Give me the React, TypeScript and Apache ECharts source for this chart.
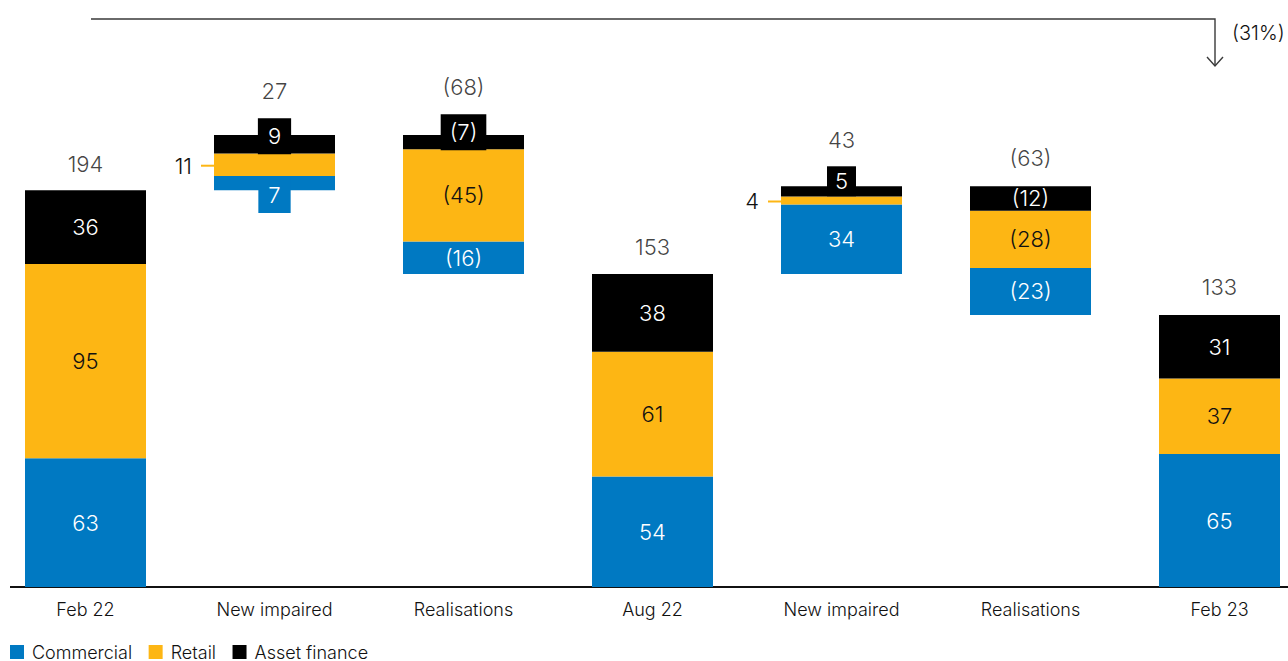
import React, { useEffect, useRef } from 'react';
import * as echarts from 'echarts';

// ---------- data ----------
const categories = ['Feb 22', 'New impaired', 'Realisations', 'Aug 22', 'New impaired', 'Realisations', 'Feb 23'];
const kinds = ['total', 'delta', 'delta', 'total', 'delta', 'delta', 'total'];
const commercial = [63, 7, -16, 54, 34, -23, 65];
const retail = [95, 11, -45, 61, 4, -28, 37];
const assetFinance = [36, 9, -7, 38, 5, -12, 31];
const changeLabel = '(31%)';

// ---------- styling ----------
const FONT = 'Inter';
const TEXT = '#111111';
const BLUE = '#0079C2';
const ORANGE = '#FDB614';
const BLACK = '#000000';

const W = 1288;
const H = 661;
const SHIFT = 9; // chart canvas starts 9px left of the page
const CW = 1323; // 7 bands of 189px
const BASE_Y = 587;
const Y_MAX = 250;
const PX_PER_UNIT = 2.045;

const fmt = (v: number) => (v < 0 ? `(${-v})` : `${v}`);

const totals = categories.map((_, i) => commercial[i] + retail[i] + assetFinance[i]);
const bases: number[] = [];
const tops: number[] = [];
{
  let running = 0;
  totals.forEach((t, i) => {
    if (kinds[i] === 'total') {
      bases.push(0);
      tops.push(t);
      running = t;
    } else if (t >= 0) {
      bases.push(running);
      tops.push(running + t);
      running += t;
    } else {
      bases.push(running + t);
      tops.push(running);
      running += t;
    }
  });
}

// distance of total label above bar top
const totalLabelDistance = [14, 32, 36, 15, 34, 16, 16];

// per segment label overrides (styling only)
const boxOverrides: Record<string, any> = {
  'Asset finance-1': { backgroundColor: BLACK, padding: [6, 10], offset: [0, -8] },
  'Commercial-1': { backgroundColor: BLUE, padding: [6, 10], offset: [0, 12] },
  'Asset finance-2': { backgroundColor: BLACK, padding: [6, 9], offset: [0, -10] },
  'Asset finance-4': { backgroundColor: BLACK, padding: [3, 8], offset: [0, -10] },
  'Retail-1': { position: 'left', distance: 0, offset: [0, 1] },
  'Retail-4': { position: 'left', distance: 0, offset: [0, 1] },
};

function segmentSeries(name: string, values: number[], color: string, textColor: string) {
  return {
    type: 'bar',
    name,
    stack: 'wf',
    barWidth: 121,
    itemStyle: { color },
    emphasis: { disabled: true },
    label: {
      show: true,
      position: 'inside',
      color: textColor,
      fontSize: 22,
      lineHeight: 24,
      fontWeight: 300,
      fontFamily: FONT,
      formatter: (p: any) => {
        const v = values[p.dataIndex];
        if (boxOverrides[`${name}-${p.dataIndex}`]?.position === 'left') {
          return `{v|${fmt(v)}}{gap|}{ln|}`;
        }
        return fmt(v);
      },
      rich: {
        v: { fontSize: 22, lineHeight: 24, color: TEXT, fontFamily: FONT, fontWeight: 300 },
        gap: { width: 9 },
        ln: { width: 13, height: 2, backgroundColor: ORANGE },
      },
    },
    data: values.map((v, i) => {
      const o = boxOverrides[`${name}-${i}`];
      return o ? { value: Math.abs(v), label: o } : Math.abs(v);
    }),
  };
}

export default function App() {
  const ref = useRef<HTMLDivElement>(null);

  useEffect(() => {
    if (!ref.current) return;
    const chart = echarts.init(ref.current, undefined, { renderer: 'svg' });
    const gridTop = BASE_Y - Y_MAX * PX_PER_UNIT;

    chart.setOption({
      animation: false,
      backgroundColor: '#ffffff',
      textStyle: { fontFamily: FONT },
      grid: { left: 0, right: 0, top: gridTop, bottom: H - BASE_Y },
      xAxis: {
        type: 'category',
        data: categories,
        axisLine: { show: false },
        axisTick: { show: false },
        axisLabel: { fontSize: 18, color: TEXT, margin: 13, fontFamily: FONT, fontWeight: 300, interval: 0 },
      },
      yAxis: { type: 'value', min: 0, max: Y_MAX, show: false },
      legend: {
        left: 10 + SHIFT,
        top: 643,
        padding: 0,
        icon: 'rect',
        itemWidth: 14,
        itemHeight: 14,
        itemGap: 16.5,
        selectedMode: false,
        textStyle: { fontSize: 18, color: TEXT, fontFamily: FONT, fontWeight: 300, lineHeight: 16, padding: [0, 0, 0, 3] },
        data: ['Commercial', 'Retail', 'Asset finance'],
      },
      series: [
        {
          type: 'bar',
          name: 'base',
          stack: 'wf',
          barWidth: 121,
          silent: true,
          itemStyle: { color: 'transparent' },
          emphasis: { disabled: true },
          data: bases,
        },
        segmentSeries('Commercial', commercial, BLUE, '#ffffff'),
        segmentSeries('Retail', retail, ORANGE, TEXT),
        segmentSeries('Asset finance', assetFinance, BLACK, '#ffffff'),
        {
          type: 'scatter',
          name: 'totals',
          symbolSize: 1,
          silent: true,
          z: 5,
          itemStyle: { color: 'transparent' },
          label: {
            show: true,
            position: 'top',
            fontSize: 22,
            lineHeight: 24,
            color: TEXT,
            fontWeight: 300,
            fontFamily: FONT,
            formatter: (p: any) => fmt(totals[p.dataIndex]),
          },
          data: tops.map((t, i) => ({ value: [i, t], label: { distance: totalLabelDistance[i] } })),
        },
      ],
      graphic: [
        {
          type: 'line',
          shape: { x1: 10 + SHIFT, y1: BASE_Y, x2: W + SHIFT, y2: BASE_Y },
          style: { stroke: '#111111', lineWidth: 2 },
          silent: true,
        },
        {
          type: 'polyline',
          shape: { points: [[91 + SHIFT, 19], [1215 + SHIFT, 19], [1215 + SHIFT, 66]] },
          style: { stroke: '#3a3a3a', lineWidth: 1.4, fill: 'none' },
          silent: true,
        },
        {
          type: 'polyline',
          shape: { points: [[1207 + SHIFT, 57], [1215 + SHIFT, 66], [1223 + SHIFT, 57]] },
          style: { stroke: '#3a3a3a', lineWidth: 1.4, fill: 'none' },
          silent: true,
        },
        {
          type: 'text',
          x: 1232 + SHIFT,
          y: 33,
          style: { text: changeLabel, fontSize: 20, fill: TEXT, fontFamily: FONT, fontWeight: 300, verticalAlign: 'middle', align: 'left' },
          silent: true,
        },
      ],
    });

    return () => chart.dispose();
  }, []);

  return (
    <div style={{ position: 'fixed', left: 0, top: 0, width: W, height: H, overflow: 'hidden', background: '#fff' }}>
      <div ref={ref} style={{ position: 'absolute', left: -SHIFT, top: 0, width: CW, height: H }} />
    </div>
  );
}
